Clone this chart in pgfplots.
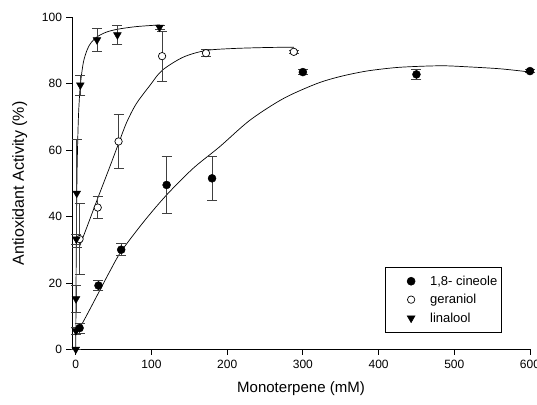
\documentclass[border=0pt]{standalone}
\usepackage{pgfplots}
\pgfplotsset{compat=1.18}
\usepackage{fontspec}
\setmainfont{Liberation Sans}
\begin{document}
\begin{tikzpicture}
\begin{axis}[
  scale only axis,
  width=458pt, height=332pt,
  xmin=-5, xmax=600, ymin=0, ymax=100,
  axis x line=bottom, axis y line=left,
  axis line style={-, line width=0.8pt},
  tick align=outside,
  major tick length=5.5pt,
  tick style={line width=0.8pt, black},
  xtick={0,100,...,600}, ytick={0,20,...,100},
  minor tick num=0,
  /pgf/number format/assume math mode=true,
  tick label style={font=\fontsize{12}{14}\selectfont},
  xticklabel style={yshift=-2pt},
  yticklabel style={xshift=-1pt},
  xlabel={Monoterpene (mM)},
  ylabel={Antioxidant Activity (\%)},
  xlabel style={font=\fontsize{15}{17}\selectfont, yshift=-6pt},
  ylabel style={font=\fontsize{16}{18}\selectfont, yshift=8pt},
  clip=false,
  legend style={at={(0.683,0.248)}, anchor=north west, draw=black, line width=0.6pt,
    font=\fontsize{13}{15}\selectfont, row sep=3.5pt, column sep=0pt,
    /tikz/every even column/.append style={column sep=0pt},
    /tikz/every odd column/.append style={column sep=0pt},
    inner xsep=2pt, inner ysep=6.5pt, legend cell align=left},
  legend cell align=left,
  legend image code/.code={%
    \path[draw=none, fill=none] (0pt,-2pt) rectangle (41pt,2pt);
    \draw[#1] plot coordinates {(24pt,0pt)};},
  error bars/error bar style={black!75, line width=0.8pt},
  error bars/error mark options={black!75, rotate=90, mark size=5pt, line width=0.8pt},
]
% fitted curves
\addplot[black, line width=0.7pt, smooth, forget plot] coordinates {
(2,5) (5,6.3) (15,10.5) (30,17) (45,23.5) (60,29.5) (90,38.5) (120,46.5) (155,54.5) (190,61) (230,69) (274,75.5) (318,80) (350,82.2) (384,83.8) (420,84.8) (450,85.2) (485,85.4) (516,85.1) (560,84.5) (597,83.6)};
\addplot[black, line width=0.7pt, smooth, forget plot] coordinates {
(5,31) (15,37) (29,45.5) (45,55) (56.5,62) (67.5,68.5) (80,74) (98,79.5) (114,84) (142,88) (172,90) (208,90.6) (252,90.9) (288,91)};
\addplot[black, line width=0.7pt, smooth, forget plot] coordinates {
(0,0) (0.1,6.3) (0.25,14.5) (0.5,25.3) (0.75,33.6) (1,40.2) (1.5,50.2) (2,57.2) (3,66.6) (4,72.5) (6,79.6) (10,86.4) (15,90.2) (20,92.3) (28,94.1) (40,95.5) (55,96.4) (80,97.2) (111,97.7)};
% data
\addplot[only marks, mark=*, mark size=4pt, mark options={fill=black, draw=black},
  error bars/.cd, y dir=both, y explicit] coordinates {
(5,6.4) +- (0,1.5)
(30,19.2) +- (0,1.5)
(60,30) +- (0,1.8)
(120,49.5) +- (0,8.6)
(180,51.5) +- (0,6.6)
(300,83.5) +- (0,0.8)
(450,82.8) +- (0,1.5)
(600,83.8) +- (0,0.5)
};
\addlegendentry{1,8- cineole}
\addplot[only marks, mark=*, mark size=3.7pt, mark options={fill=white, draw=black, line width=0.7pt},
  error bars/.cd, y dir=both, y explicit] coordinates {
(5,33.2) +- (0,10.7)
(29,42.7) +- (0,3.3)
(56.5,62.6) +- (0,8.1)
(114,88.3) +- (0,7.6)
(172,89.2) +- (0,1.1)
(288,89.6) +- (0,0.5)
};
\addlegendentry{geraniol}
\addplot[only marks, mark=triangle*, mark size=4.5pt, mark options={fill=black, draw=black, rotate=180},
  error bars/.cd, y dir=both, y explicit] coordinates {
(0,0) +- (0,0)
(0.1,5.6) +- (0,1)
(0.3,15.2) +- (0,4)
(0.75,33.2) +- (0,1.5)
(1.3,47) +- (0,16.3)
(6,79.6) +- (0,3)
(28,93.2) +- (0,3.4)
(55,94.7) +- (0,2.9)
(110.6,97) +- (0,0.5)
};
\addlegendentry{linalool}
\end{axis}
\pgfresetboundingbox
\path ([shift={(-72pt,-55.5pt)}]current axis.south west) rectangle ([shift={(7pt,17.3pt)}]current axis.north east);
\end{tikzpicture}
\end{document}
